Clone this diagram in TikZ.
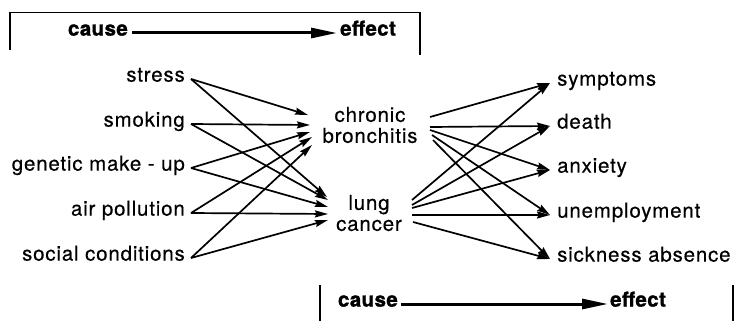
\documentclass[tikz,border=0pt]{standalone}
\usepackage{fontspec}
\setmainfont{TeX Gyre Heros}[LetterSpace=4,FakeBold=0.35,BoldFeatures={FakeBold=1.2,LetterSpace=2}]
\usetikzlibrary{arrows.meta}
\begin{document}
\begin{tikzpicture}[x=1pt,y=-1pt,
  font=\fontsize{20.5}{21}\selectfont,
  llab/.style={anchor=mid east,inner xsep=6pt,inner ysep=0pt},
  rlab/.style={anchor=mid west,inner xsep=7pt,inner ysep=0pt},
  cen/.style={align=center,inner sep=0pt},
  hd/.style={font=\fontsize{20.5}{21}\selectfont\bfseries,inner sep=0pt},
  arr/.style={-{Stealth[length=13pt,width=7pt,inset=1.5pt]},line width=1.7pt},
  big/.style={-{Triangle[length=26pt,width=10pt]},line width=3pt},
  brk/.style={line width=1.8pt}]
\useasboundingbox (0,0) rectangle (736,321);

% header brackets
\draw[brk] (10,50) -- (10,12.5) -- (420,12.5) -- (420,55);
\node[hd,anchor=mid east] (hc1) at (128,33) {cause};
\node[hd,anchor=mid west] (he1) at (340,33) {effect};
\draw[big,shorten <=4pt,shorten >=3pt] (hc1.mid east) -- (he1.mid west);

\draw[brk] (320,285) -- (320,321);
\draw[brk] (733,285) -- (733,321);
\node[hd,anchor=mid east] (hc2) at (398,304) {cause};
\node[hd,anchor=mid west] (he2) at (610,304) {effect};
\draw[big,shorten <=3pt,shorten >=2pt] (hc2.mid east) -- (he2.mid west);

% left labels
\node[llab] (st) at (191,79) {stress};
\node[llab] (sm) at (191,124) {smoking};
\node[llab] (ge) at (191,168) {genetic make - up};
\node[llab] (ai) at (191,213) {air pollution};
\node[llab] (so) at (191,258) {social conditions};

% centre
\node[cen] (cb) at (370,125) {chronic\\bronchitis};
\node[cen] (lc) at (369,213) {lung\\cancer};

% right labels
\node[rlab] (sy) at (550,83) {symptoms};
\node[rlab] (de) at (550,126) {death};
\node[rlab] (an) at (550,170) {anxiety};
\node[rlab] (un) at (550,215) {unemployment};
\node[rlab] (si) at (550,259) {sickness absence};

% causes -> chronic bronchitis
\draw[arr] (st.mid east) -- ([shift={(-62,-10)}]cb.center);
\draw[arr] (sm.mid east) -- ([shift={(-60,0)}]cb.center);
\draw[arr] (ge.mid east) -- ([shift={(-60,7)}]cb.center);
\draw[arr] (ai.mid east) -- ([shift={(-58,12)}]cb.center);
\draw[arr] (so.mid east) -- ([shift={(-58,20)}]cb.center);
% causes -> lung cancer
\draw[arr] (st.mid east) -- ([shift={(-42,-16)}]lc.center);
\draw[arr] (sm.mid east) -- ([shift={(-41,-13)}]lc.center);
\draw[arr] (ge.mid east) -- ([shift={(-41,-6)}]lc.center);
\draw[arr] (ai.mid east) -- ([shift={(-41,1)}]lc.center);
\draw[arr] (so.mid east) -- ([shift={(-41,7)}]lc.center);

% chronic bronchitis -> effects
\draw[arr] ([shift={(60,-8)}]cb.center) -- (sy.mid west);
\draw[arr] ([shift={(60,2)}]cb.center) -- (de.mid west);
\draw[arr] ([shift={(60,5)}]cb.center) -- (an.mid west);
\draw[arr] ([shift={(62,10)}]cb.center) -- (un.mid west);
\draw[arr] ([shift={(63,15)}]cb.center) -- (si.mid west);
% lung cancer -> effects
\draw[arr] ([shift={(43,-13)}]lc.center) -- (sy.mid west);
\draw[arr] ([shift={(43,-8)}]lc.center) -- (de.mid west);
\draw[arr] ([shift={(43,-5)}]lc.center) -- (an.mid west);
\draw[arr] ([shift={(43,2)}]lc.center) -- (un.mid west);
\draw[arr] ([shift={(44,9)}]lc.center) -- (si.mid west);
\end{tikzpicture}
\end{document}
